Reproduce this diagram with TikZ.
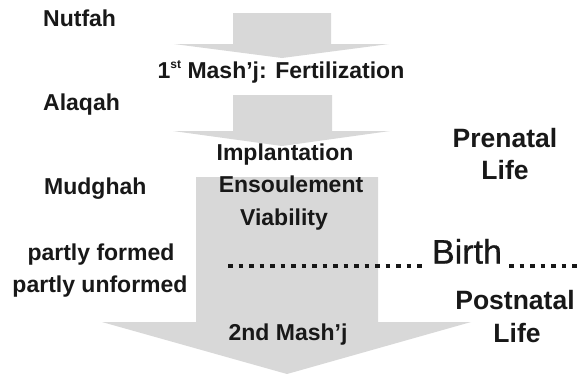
\documentclass[tikz,border=0pt]{standalone}
\usepackage{fontspec}
\setmainfont{Liberation Sans}
\newfontfamily\birthfont{Liberation Sans}[FakeBold=0.8]
\definecolor{arrowgray}{RGB}{216,216,216}
\definecolor{inkcol}{RGB}{24,24,24}
\newcommand{\supst}{\raisebox{0.42em}{\fontsize{12bp}{12bp}\selectfont st}}
\tikzset{
  lbl/.style={font=\fontsize{23bp}{27bp}\selectfont\bfseries, text=inkcol, inner sep=0pt, text height=0.72em, text depth=0pt},
  biglbl/.style={font=\fontsize{26.5bp}{30bp}\selectfont\bfseries, text=inkcol, inner sep=0pt, text height=0.72em, text depth=0pt, align=center},
  birthlbl/.style={font=\fontsize{34bp}{36bp}\birthfont, text=inkcol, inner xsep=7bp, inner ysep=0pt, text height=0.72em, text depth=0pt},
  dotline/.style={draw=inkcol, line width=4.5bp, dash pattern=on 4.5bp off 6bp},
  arrowshape/.style={fill=arrowgray, draw=none}
}
\begin{document}
\begin{tikzpicture}[x=1bp,y=-1bp]
\useasboundingbox[fill=white] (0,0) rectangle (579,373);
% arrows
\fill[arrowshape] (233,13) -- (331,13) -- (331,44) -- (389,44) -- (282,58) -- (174,44) -- (233,44) -- cycle;
\fill[arrowshape] (233,95) -- (332,95) -- (332,131) -- (390,131) -- (282,146) -- (173,131) -- (233,131) -- cycle;
\fill[arrowshape] (196,177) -- (378,177) -- (378,322) -- (471,322) -- (287,374) -- (102,322) -- (196,322) -- cycle;
% left labels
\node[lbl, anchor=west] (nutfah) at (43,22.5) {Nutfah};
\node[lbl, anchor=west] (alaqah) at (43,106.5) {Alaqah};
\node[lbl, anchor=west] (mudghah) at (44,190.5) {Mudghah};
\node[lbl] (pformed) at (101,257) {partly formed};
\node[lbl] (punformed) at (100,288.5) {partly unformed};
% centre labels
\node[lbl] (mash1) at (281,75) {1\supst\ Mash’j: Fertilization};
\node[lbl] (impl) at (285,156.5) {Implantation};
\node[lbl] (ensoul) at (291,188.5) {Ensoulement};
\node[lbl] (viab) at (284,221.5) {Viability};
\node[lbl] (mash2) at (288,337) {2nd Mash’j};
% right labels
\node[biglbl] (pren) at (505,144) {Prenatal};
\node[biglbl] (prelife) at (505,176) {Life};
\node[biglbl] (postn) at (515,306) {Postnatal};
\node[biglbl] (postlife) at (517,339) {Life};
% birth line
\node[birthlbl] (birth) at (467,260) {Birth};
\coordinate (dl) at (228,266);
\coordinate (dr) at (580,266);
\draw[dotline] (dl) -- (dl -| birth.west);
\draw[dotline] (birth.east |- dr) -- (dr);
\end{tikzpicture}
\end{document}
